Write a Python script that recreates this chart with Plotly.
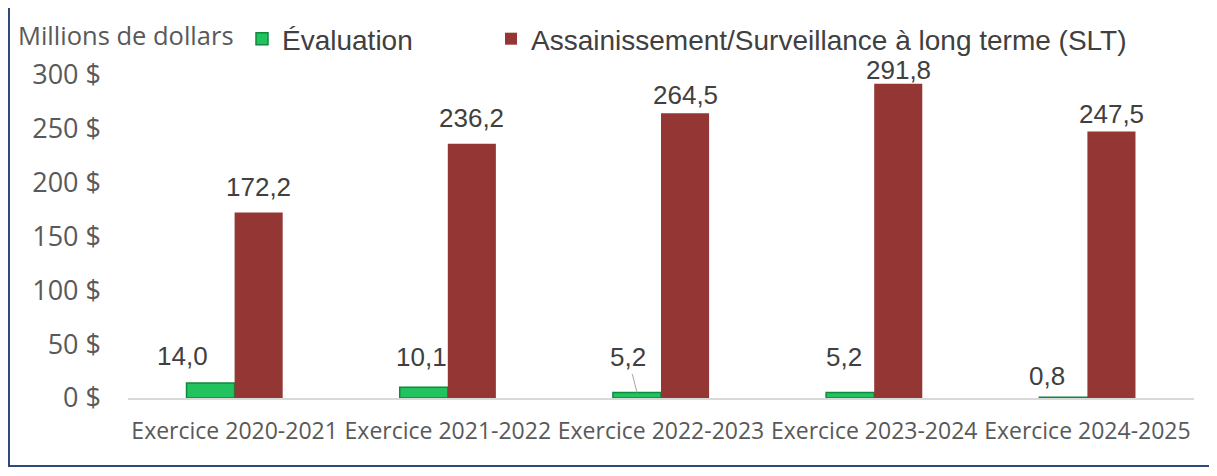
import plotly.graph_objects as go

categories = ["Exercice 2020-2021", "Exercice 2021-2022", "Exercice 2022-2023",
              "Exercice 2023-2024", "Exercice 2024-2025"]
evaluation = [14.0, 10.1, 5.2, 5.2, 0.8]
slt = [172.2, 236.2, 264.5, 291.8, 247.5]
y_ticks = [0, 50, 100, 150, 200, 250, 300]
y_tick_labels = ["0 $", "50 $", "100 $", "150 $", "200 $", "250 $", "300 $"]

# label placement (pixel offsets, styling only)
eval_label_dx = [-28, -2, -9, -6, -16]
eval_label_dy = [27, 30, 35, 35, 21]
eval_leader = [False, False, True, False, False]
slt_label_dy = [26, 26, 18, 14, 18]


def fr(v):
    return f"{v:.1f}".replace(".", ",")


OFF = 8  # page body margin
W_FIG, H_FIG = 1217 - OFF, 476 - OFF
# desired screen positions of the plot area: x 128..1194, y 75..398
L = 128 - OFF
T = 75 - OFF
R = W_FIG - (1194 - OFF)
B = H_FIG - (398 - OFF)
W, H = W_FIG - L - R, H_FIG - T - B

def px_x(p):
    return (p - OFF - L) / W

def px_y(p):
    return (H_FIG - B - (p - OFF)) / H

label_font = dict(family="Liberation Sans, Arial", size=26, color="#404040")
calibri_like = "Open Sans"

fig = go.Figure()
fig.add_trace(go.Bar(
    x=categories, y=evaluation, name="Évaluation", legend="legend",
    marker=dict(color="#22c35f", line=dict(color="#0e8a3e", width=1.5)),
))
fig.add_trace(go.Bar(
    x=categories, y=slt, name="Assainissement/Surveillance à long terme (SLT)",
    legend="legend2",
    marker=dict(color="#943634", line=dict(width=0)),
))

for c, v, dy in zip(categories, slt, slt_label_dy):
    fig.add_annotation(x=c, y=v, xref="x", yref="y", text=fr(v), showarrow=False,
                       xshift=24, yshift=dy, yanchor="middle", font=label_font)

for c, v, dx, dy, lead in zip(categories, evaluation, eval_label_dx, eval_label_dy, eval_leader):
    if lead:
        fig.add_annotation(x=c, y=v, xref="x", yref="y", text=fr(v),
                           showarrow=True, arrowhead=0, arrowcolor="#a6a6a6",
                           arrowwidth=1, ax=dx, ay=-dy, xshift=-24,
                           font=label_font)
    else:
        fig.add_annotation(x=c, y=v, xref="x", yref="y", text=fr(v), showarrow=False,
                           xshift=-24 + dx, yshift=dy, yanchor="middle",
                           font=label_font)

fig.add_annotation(
    x=px_x(16), y=px_y(35), xref="paper", yref="paper", text="Millions de dollars",
    showarrow=False, xanchor="left", yanchor="middle",
    font=dict(family=calibri_like, size=25.5, color="#595959"),
)

# chart frame
fig.add_shape(type="rect", xref="paper", yref="paper",
              x0=px_x(9), x1=px_x(1240), y0=px_y(466), y1=px_y(3),
              line=dict(color="#2e4a7a", width=2), layer="below")

legend_common = dict(orientation="h", yanchor="middle", y=px_y(39), xanchor="left",
                     font=dict(family="Liberation Sans, Arial", size=28, color="#404040"),
                     bgcolor="rgba(0,0,0,0)", itemwidth=30)

fig.update_layout(
    width=W_FIG, height=H_FIG,
    margin=dict(l=L, r=R, t=T, b=B, autoexpand=False),
    paper_bgcolor="white", plot_bgcolor="white",
    barmode="group", bargap=0.549, bargroupgap=0.0,
    showlegend=True,
    legend=dict(x=px_x(242), **legend_common),
    legend2=dict(x=px_x(491), **legend_common),
    xaxis=dict(showgrid=False, showline=True, linecolor="#d9d9d9", linewidth=1.5,
               ticks="", ticklabelstandoff=12, tickangle=0,
               tickfont=dict(family=calibri_like, size=23, color="#595959")),
    yaxis=dict(range=[0, 300], tickvals=y_ticks, ticktext=y_tick_labels,
               showgrid=False, zeroline=False, showline=False, ticks="",
               tickfont=dict(family=calibri_like, size=27, color="#595959"),
               ticklabelstandoff=26),
)

fig.write_html("out.html")
